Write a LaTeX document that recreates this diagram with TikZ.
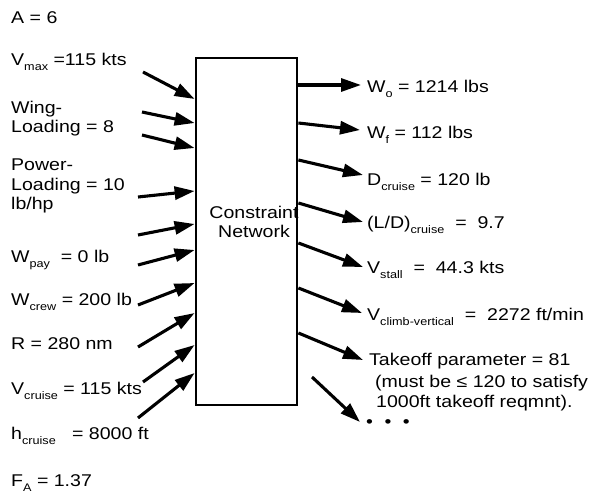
\documentclass[tikz,border=0pt]{standalone}
\usepackage{fontspec}
\setmainfont{Liberation Sans}[FakeStretch=1.15]
\usetikzlibrary{arrows.meta}
\newcommand\sbs[1]{\raisebox{-5pt}{\fontsize{11}{11}\selectfont #1}}
\begin{document}
\begin{tikzpicture}[x=1pt,y=-1pt,
  txt/.style={anchor=base west, inner sep=0pt, align=left, font=\fontsize{17}{19.5}\selectfont},
  arr/.style={line width=3.1pt, -{Triangle[length=20pt,width=13pt]}},
  box/.style={draw, line width=2.8pt, minimum width=101pt, minimum height=347pt, inner sep=0pt}]
\useasboundingbox (0,0) rectangle (603,494);
\node[box] (net) at (246.5,231.5) {};
\node[txt, anchor=base, align=center] (lbl) at (254,238) {Constraint\\Network};
% left texts
\node[txt] (a) at (11,24) {A = 6};
\node[txt] (vmax) at (11,66) {V\sbs{max} =115 kts};
\node[txt] (wl) at (11,133) {Wing-\\Loading = 8};
\node[txt] (pl) at (11,210) {Power-\\Loading = 10\\lb/hp};
\node[txt] (wpay) at (11,263) {W\sbs{pay}\ \ = 0 lb};
\node[txt] (wcrew) at (11,306) {W\sbs{crew} = 200 lb};
\node[txt] (r) at (11,350) {R = 280 nm};
\node[txt] (vc) at (11,395) {V\sbs{cruise} = 115 kts};
\node[txt] (hc) at (11,440) {h\sbs{cruise}\ \ \ = 8000 ft};
\node[txt] (fa) at (11,486) {F\sbs{A} = 1.37};
% right texts
\node[txt] (wo) at (367,93) {W\sbs{o} = 1214 lbs};
\node[txt] (wf) at (367,139) {W\sbs{f} = 112 lbs};
\node[txt] (dc) at (367,186) {D\sbs{cruise} = 120 lb};
\node[txt] (ld) at (367,229) {(L/D)\sbs{cruise}\ \ =\ \ 9.7};
\node[txt] (vs) at (367,274) {V\sbs{stall}\ \ =\ \ 44.3 kts};
\node[txt] (vcv) at (367,321) {V\sbs{climb-vertical}\ \ =\ \ 2272 ft/min};
\node[txt, font=\fontsize{17}{21}\selectfont] (to) at (369,408) {Takeoff parameter = 81\\\hspace*{6pt}(must be ≤ 120 to satisfy\\\hspace*{7pt}1000ft takeoff reqmnt).};
\node[txt] (dots) at (366,428) {•\hspace{11.5pt}•\hspace{11.5pt}•};
% input arrow tails
\coordinate (i1) at (143,72);
\coordinate (i2) at (142,112);
\coordinate (i3) at (142,135);
\coordinate (i4) at (138,197);
\coordinate (i5) at (138,235);
\coordinate (i6) at (138,265);
\coordinate (i7) at (138,305);
\coordinate (i8) at (138,347);
\coordinate (i9) at (143,382);
\coordinate (i10) at (138,418);
\draw[arr] (i1) -- (net.west |- 0,99);
\draw[arr] (i2) -- (net.west |- 0,123);
\draw[arr] (i3) -- (net.west |- 0,148);
\draw[arr] (i4) -- (net.west |- 0,191);
\draw[arr] (i5) -- (net.west |- 0,224);
\draw[arr] (i6) -- (net.west |- 0,250);
\draw[arr] (i7) -- (net.west |- 0,283);
\draw[arr] (i8) -- (net.west |- 0,313);
\draw[arr] (i9) -- (net.west |- 0,345);
\draw[arr] (i10) -- (net.west |- 0,373);
% output arrow heads
\coordinate (o1) at (361,85);
\coordinate (o2) at (360,130);
\coordinate (o3) at (363,175);
\coordinate (o4) at (363,222);
\coordinate (o5) at (363,267);
\coordinate (o6) at (362,313);
\coordinate (o7) at (363,360);
\coordinate (o8s) at (312,377);
\coordinate (o8) at (360,422);
\draw[arr] (net.east |- 0,85) -- (o1);
\draw[arr] (net.east |- 0,123) -- (o2);
\draw[arr] (net.east |- 0,160) -- (o3);
\draw[arr] (net.east |- 0,203) -- (o4);
\draw[arr] (net.east |- 0,243) -- (o5);
\draw[arr] (net.east |- 0,288) -- (o6);
\draw[arr] (net.east |- 0,333) -- (o7);
\draw[arr] (o8s) -- (o8);
\end{tikzpicture}
\end{document}
